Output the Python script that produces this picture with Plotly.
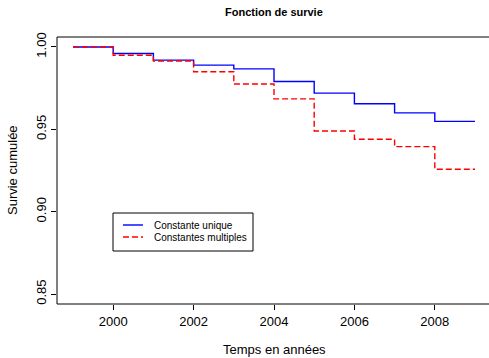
import plotly.graph_objects as go

years = [1999, 2000, 2001, 2002, 2003, 2004, 2005, 2006, 2007, 2008, 2009]
surv_unique = [1.000, 0.996, 0.992, 0.989, 0.9867, 0.979, 0.972, 0.9655, 0.960, 0.9548, 0.9548]
surv_multiples = [1.000, 0.995, 0.9915, 0.985, 0.9775, 0.9685, 0.949, 0.944, 0.9395, 0.9258, 0.9258]
series_names = ["Constante unique", "Constantes multiples"]
x_ticks = [2000, 2002, 2004, 2006, 2008]
y_ticks = [0.85, 0.90, 0.95, 1.00]
y_tick_labels = ["0.85", "0.90", "0.95", "1.00"]

FONT = "Liberation Sans, Arial, Helvetica, sans-serif"

fig = go.Figure()
fig.add_trace(go.Scatter(x=years, y=surv_unique, mode="lines", line_shape="hv",
                         line=dict(color="#0000FF", width=1.4), name=series_names[0]))
fig.add_trace(go.Scatter(x=years, y=surv_multiples, mode="lines", line_shape="hv",
                         line=dict(color="#FF0000", width=1.4, dash="6px,3px"), name=series_names[1]))

# frame
fig.add_shape(type="rect", xref="paper", yref="paper", x0=0, x1=1.02, y0=0, y1=1,
              line=dict(color="black", width=1))

# manual legend
lx0, lx1, ly0, ly1 = 113, 253, 213, 251
W, H = 489, 358
ml, mr, mt, mb = 57, 0, 37, 54
pw, ph = W - ml - mr, H - mt - mb
def px(x): return (x - ml) / pw
def py(y): return 1 - (y - mt) / ph
fig.add_shape(type="rect", xref="paper", yref="paper", x0=px(lx0), x1=px(lx1), y0=py(ly1), y1=py(ly0),
              line=dict(color="black", width=1), fillcolor="white")
for i, (name, col, dash) in enumerate(zip(series_names, ["#0000FF", "#FF0000"], ["solid", "6px,3px"])):
    yy = 225 + i * 12
    fig.add_shape(type="line", xref="paper", yref="paper", x0=px(123), x1=px(143), y0=py(yy), y1=py(yy),
                  line=dict(color=col, width=1.4, dash=dash))
    fig.add_annotation(xref="paper", yref="paper", x=px(152), y=py(yy), text=name, showarrow=False,
                       xanchor="left", yanchor="middle", font=dict(family=FONT, size=10, color="black"))

fig.add_annotation(xref="paper", yref="paper", x=px(274), y=py(12), text="<b>Fonction de survie</b>",
                   showarrow=False, xanchor="center", yanchor="middle", font=dict(family=FONT, size=11, color="black"))
fig.add_annotation(xref="paper", yref="paper", x=px(274), y=py(349), text="Temps en années",
                   showarrow=False, xanchor="center", yanchor="middle", font=dict(family=FONT, size=13, color="black"))
fig.add_annotation(xref="paper", yref="paper", x=px(12), y=py(170), text="Survie cumulée", textangle=-90,
                   showarrow=False, xanchor="center", yanchor="middle", font=dict(family=FONT, size=13, color="black"))

fig.update_layout(
    width=W, height=H, margin=dict(l=ml, r=mr, t=mt, b=mb, autoexpand=False),
    paper_bgcolor="white", plot_bgcolor="white", showlegend=False,
    font=dict(family=FONT, size=13, color="black"),
    xaxis=dict(range=[1998.602, 1998.602 + pw / 40.2], tickvals=x_ticks, ticks="outside", ticklen=5,
               tickcolor="black", showgrid=False, zeroline=False, showline=False, automargin=False),
    yaxis=dict(range=[0.85 - 10 / 1650, 1.0 + 10 / 1650], tickvals=y_ticks, ticktext=y_tick_labels,
               ticks="outside", ticklen=5, tickcolor="black", tickangle=-90,
               showgrid=False, zeroline=False, showline=False, automargin=False),
)

fig.write_html("out.html", config={"displayModeBar": False},
               post_script="document.body.style.margin='0';document.body.style.overflow='hidden';")
